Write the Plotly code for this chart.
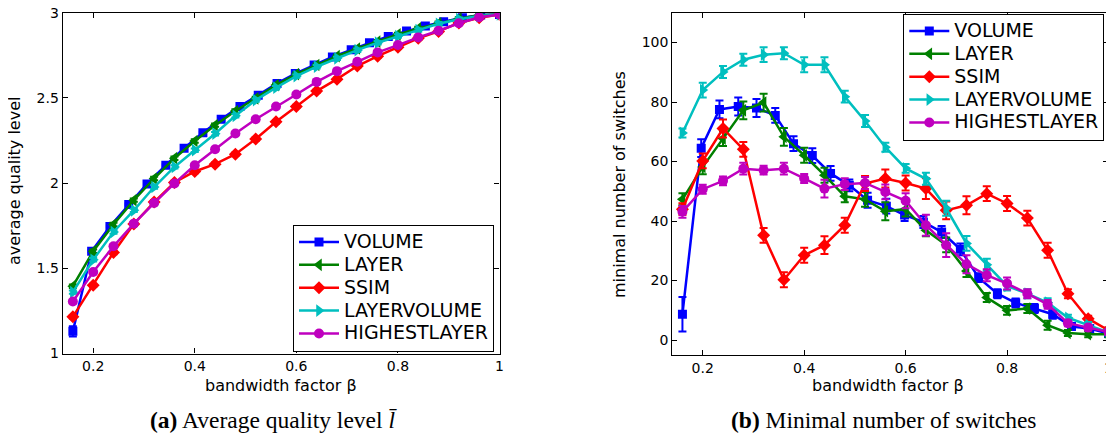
import plotly.graph_objects as go

# ---------------- data ----------------
x_grid = [0.16, 0.20, 0.24, 0.28, 0.32, 0.36, 0.40, 0.44, 0.48, 0.52, 0.56,
          0.60, 0.64, 0.68, 0.72, 0.76, 0.80, 0.84, 0.88, 0.92, 0.96, 1.00]
x_volume = [0.160, 0.197, 0.233, 0.270, 0.306, 0.343, 0.379, 0.416, 0.452, 0.489,
            0.525, 0.562, 0.598, 0.635, 0.671, 0.708, 0.744, 0.781, 0.817, 0.854,
            0.890, 0.927, 0.963, 1.000]

series_names = ["VOLUME", "LAYER", "SSIM", "LAYERVOLUME", "HIGHESTLAYER"]

# (a) average quality level
q_volume = [1.13, 1.60, 1.745, 1.875, 1.995, 2.105, 2.205, 2.295, 2.375, 2.45,
            2.515, 2.585, 2.643, 2.693, 2.74, 2.782, 2.823, 2.86, 2.892, 2.922,
            2.947, 2.97, 2.986, 2.99]
q_volume_err = [0.03] + [0.006] * 23
q_layer = [1.395, 1.60, 1.757, 1.90, 2.027, 2.146, 2.247, 2.34, 2.423, 2.497, 2.575,
           2.64, 2.693, 2.745, 2.79, 2.83, 2.873, 2.908, 2.938, 2.965, 2.985, 2.99]
q_ssim = [1.215, 1.40, 1.593, 1.76, 1.889, 2.004, 2.068, 2.111, 2.17, 2.259, 2.36,
          2.45, 2.54, 2.61, 2.687, 2.745, 2.797, 2.85, 2.89, 2.94, 2.97, 2.99]
q_layervolume = [1.36, 1.55, 1.713, 1.84, 1.977, 2.095, 2.193, 2.29, 2.395, 2.487, 2.56,
                 2.628, 2.683, 2.732, 2.78, 2.824, 2.863, 2.898, 2.935, 2.962, 2.98, 2.99]
q_highest = [1.305, 1.478, 1.629, 1.762, 1.883, 1.998, 2.105, 2.199, 2.291, 2.375, 2.45,
             2.52, 2.594, 2.657, 2.712, 2.767, 2.81, 2.855, 2.894, 2.938, 2.973, 2.99]
q_err = [0.01] * 22

# (b) minimal number of switches
s_volume = [8.7, 64.5, 77.5, 78.5, 78.0, 75.5, 66.0, 62.0, 56.0, 52.0, 47.0, 45.0,
            42.0, 39.7, 36.3, 30.5, 21.0, 15.6, 12.5, 10.6, 8.7, 4.6, 3.9, 2.2]
s_volume_err = [5.8, 3, 3, 3, 3, 2.5, 2.5, 2.5, 2.5, 2, 2.5, 2.5, 2, 2, 2, 2,
                1.5, 1.5, 1.5, 1.5, 1.5, 1, 1, 1]
s_layer = [47.3, 58.2, 67.7, 77.2, 79.8, 68.3, 62.1, 55.4, 48.3, 47.3, 43.3, 44.0,
           36.9, 32.0, 23.2, 14.3, 10.0, 10.6, 5.0, 2.4, 2.0, 2.0]
s_layer_err = [2, 2.5, 2.5, 3, 3, 3, 2.5, 2.5, 2, 2.5, 3, 2.5, 2, 2.5, 2, 1.5,
               1.5, 1.5, 1.5, 1, 1, 1]
s_ssim = [44.0, 60.2, 71.1, 64.1, 35.2, 20.3, 28.5, 31.9, 38.6, 52.6, 54.3, 52.8,
          50.9, 43.6, 45.3, 49.2, 45.9, 41.0, 30.2, 15.6, 7.2, 3.3]
s_ssim_err = [2, 2.5, 3, 2.5, 2.5, 2.5, 2.5, 3, 2.5, 2.5, 3, 2.5, 3.5, 3, 3, 2.5,
              2.5, 2.5, 2.5, 1.5, 1, 1]
s_layervolume = [69.6, 84.0, 90.1, 94.2, 95.9, 96.4, 92.5, 92.5, 81.8, 73.6, 64.8,
                 57.7, 54.2, 44.3, 32.5, 25.3, 18.2, 15.6, 12.6, 7.5, 5.1, 2.6]
s_layervolume_err = [1.5, 2.5, 2, 2, 2.5, 2, 2.5, 2.5, 2, 2, 1.5, 1.5, 2, 2.5,
                     2.5, 2, 1.5, 1.5, 1.5, 1, 1, 1]
s_highest = [43.1, 50.7, 53.5, 57.6, 57.1, 57.6, 54.3, 50.9, 52.4, 52.8, 49.8, 46.8,
             38.6, 31.9, 25.5, 21.8, 19.0, 15.6, 12.0, 5.7, 4.2, 2.7]
s_highest_err = [2, 1.5, 1.5, 2, 1.5, 2, 1.5, 3, 2, 2, 2.5, 2.5, 3.5, 4, 3, 2, 2,
                 1.5, 1.5, 1, 1, 1]

# ---------------- styles ----------------
colors = ["#0000FF", "#008000", "#FF0000", "#00BFBF", "#BF00BF"]
symbols = ["square", "triangle-left", "diamond", "triangle-right", "circle"]
sizes = [9, 11, 10, 11, 10]

# page has an 8px body margin: size the figure so it exactly fills the window
OFF = 8
W, H = 1114 - OFF, 439 - OFF
FONT = "DejaVu Sans, sans-serif"
SERIF = "Liberation Serif, Times New Roman, serif"

fig = go.Figure()

left_sets = [
    (x_volume, q_volume, q_volume_err),
    (x_grid, q_layer, q_err),
    (x_grid, q_ssim, q_err),
    (x_grid, q_layervolume, q_err),
    (x_grid, q_highest, q_err),
]
right_sets = [
    (x_volume, s_volume, s_volume_err),
    (x_grid, s_layer, s_layer_err),
    (x_grid, s_ssim, s_ssim_err),
    (x_grid, s_layervolume, s_layervolume_err),
    (x_grid, s_highest, s_highest_err),
]

def legend_label(name):
    return "<span style='font-size:19px'>" + name + "</span>"

for axes, sets, leg in ((("x", "y"), left_sets, "legend"),
                        (("x2", "y2"), right_sets, "legend2")):
    for i, (xs, ys, es) in enumerate(sets):
        fig.add_trace(go.Scatter(
            x=xs, y=ys, name=legend_label(series_names[i]), mode="lines+markers",
            line=dict(color=colors[i], width=2.5),
            marker=dict(symbol=symbols[i], size=sizes[i], color=colors[i]),
            error_y=dict(type="data", array=es, visible=True, color=colors[i],
                         thickness=2, width=4),
            xaxis=axes[0], yaxis=axes[1], legend=leg,
        ))

def px_x(p):
    return (p - OFF) / W

def px_y(p):
    return 1 - (p - OFF) / H

axis_common = dict(
    showline=True, linecolor="black", linewidth=1.2, mirror="ticks",
    ticks="inside", ticklen=5, tickcolor="black", tickwidth=1,
    showgrid=False, zeroline=False, ticklabeloverflow="allow", automargin=False,
    tickfont=dict(family=FONT, size=14, color="black"),
)

legend_common = dict(
    bgcolor="white", bordercolor="black", borderwidth=1,
    font=dict(family=FONT, size=15.3, color="black"),
    xanchor="left", yanchor="bottom", itemwidth=40, tracegroupgap=0,
    xref="paper", yref="paper",
)

fig.update_layout(
    width=W, height=H,
    margin=dict(l=0, r=0, t=0, b=0, pad=0, autoexpand=False),
    paper_bgcolor="white", plot_bgcolor="white",
    xaxis=dict(domain=[px_x(62.7), px_x(499.5)], range=[0.14, 1.0],
               tickvals=[0.2, 0.4, 0.6, 0.8, 1.0],
               ticktext=["0.2", "0.4", "0.6", "0.8", "1"],
               anchor="y", **axis_common),
    yaxis=dict(domain=[px_y(353.5), px_y(12.7)], range=[1, 3],
               tickvals=[1, 1.5, 2, 2.5, 3],
               ticktext=["1", "1.5", "2", "2.5", "3"],
               anchor="x", **axis_common),
    xaxis2=dict(domain=[px_x(672.3), px_x(1108.5)], range=[0.14, 1.0],
                tickvals=[0.2, 0.4, 0.6, 0.8, 1.0],
                ticktext=["0.2", "0.4", "0.6", "0.8", "1"],
                anchor="y2", **axis_common),
    yaxis2=dict(domain=[px_y(355), px_y(12.7)], range=[-5, 110],
                tickvals=[0, 20, 40, 60, 80, 100],
                anchor="x2", **axis_common),
    legend=dict(x=px_x(293), y=px_y(351.5), **legend_common),
    legend2=dict(x=px_x(903.3), y=px_y(140.5), **legend_common),
    showlegend=True,
)

ann_font = dict(family=FONT, size=16, color="black")
cap_font = dict(family=SERIF, size=23.5, color="black")
annotations = [
    dict(text="bandwidth factor β", x=px_x(281), y=px_y(385), font=ann_font),
    dict(text="bandwidth factor β", x=px_x(888), y=px_y(385), font=ann_font),
    dict(text="average quality level", x=px_x(14), y=px_y(181), textangle=-90, font=ann_font),
    dict(text="minimal number of switches", x=px_x(620), y=px_y(185), textangle=-90, font=ann_font),
    dict(text="<b>(a)</b> Average quality level <i>l̄</i>", x=px_x(273), y=px_y(420), font=cap_font),
    dict(text="<b>(b)</b> Minimal number of switches", x=px_x(883), y=px_y(420), font=cap_font),
]
for a in annotations:
    a.update(xref="paper", yref="paper", showarrow=False, xanchor="center", yanchor="middle")
fig.update_layout(annotations=annotations)

fig.write_html("out.html")
